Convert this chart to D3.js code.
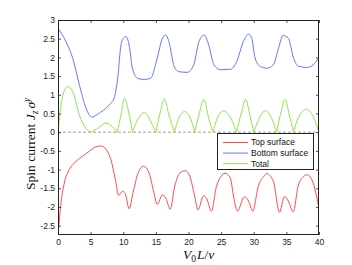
<!DOCTYPE html>
<html>
<head>
<meta charset="utf-8">
<script src="https://cdn.jsdelivr.net/npm/d3@7"></script>
<style>
  body { margin: 0; background: #fff; }
  .tick text { font-family: "Liberation Sans", Arial, sans-serif; font-size: 8.5px; fill: #222; }
  .tick line { stroke: #222; stroke-width: 0.8; }
  .lbl { font-family: "Liberation Serif", "Times New Roman", serif; font-size: 13.5px; fill: #111; }
  .leg text { font-family: "Liberation Sans", Arial, sans-serif; font-size: 8.5px; fill: #111; }
</style>
</head>
<body>
<div id="chart"></div>
<script>
// x = V0 L / v, y = spin current
const topSurface = [
  [0, -2.75], [0.25, -2.26], [0.46, -1.89], [0.97, -1.36], [1.74, -1.0], [2.76, -0.78],
  [3.78, -0.64], [4.8, -0.51], [5.8, -0.39], [6.6, -0.37], [7.36, -0.46], [8.1, -0.73],
  [8.8, -1.27], [9.3, -1.69], [9.9, -1.58], [10.3, -1.64], [10.9, -2.05], [11.5, -1.62],
  [12.2, -1.13], [13.1, -0.91], [13.95, -1.09], [14.7, -1.62], [15.2, -1.93], [16.0, -1.68],
  [16.5, -1.76], [17.2, -2.06], [17.9, -1.44], [18.7, -1.09], [19.5, -1.03], [20.2, -1.18],
  [20.95, -1.71], [21.45, -2.08], [22.3, -1.70], [22.8, -1.78], [23.5, -2.11], [24.3, -1.44],
  [25.0, -1.18], [25.6, -1.10], [26.4, -1.22], [26.9, -1.71], [27.5, -2.11], [28.55, -1.73],
  [29.2, -1.84], [29.85, -2.11], [30.7, -1.44], [31.5, -1.19], [32.0, -1.11], [33.0, -1.31],
  [33.95, -2.14], [34.7, -1.72], [35.3, -1.84], [36.05, -2.13], [36.8, -1.44], [37.6, -1.19],
  [38.2, -1.14], [39.1, -1.36], [40, -2.05]
];

const bottomSurface = [
  [0, 2.78], [0.6, 2.62], [1.23, 2.42], [2.25, 1.98], [3.27, 1.27], [4.3, 0.64], [5.2, 0.40],
  [5.8, 0.45], [6.5, 0.53], [7.35, 0.64], [8.0, 0.76], [8.6, 0.91], [9.15, 1.44], [9.65, 2.33],
  [10.05, 2.52], [10.4, 2.56], [10.9, 2.33], [11.4, 1.71], [12.2, 1.44], [13.2, 1.41],
  [14.2, 1.44], [15.2, 1.98], [16.0, 2.51], [16.5, 2.60], [17.0, 2.42], [17.8, 1.76],
  [18.5, 1.62], [19.8, 1.60], [20.8, 1.80], [21.6, 2.42], [22.4, 2.60], [23.1, 2.33],
  [23.9, 1.80], [24.9, 1.67], [26.4, 1.68], [27.4, 1.89], [28.4, 2.42], [29.2, 2.62],
  [29.7, 2.51], [30.2, 1.98], [31.0, 1.76], [32.0, 1.71], [33.0, 1.80], [33.8, 2.25],
  [34.5, 2.59], [35.3, 2.51], [36.1, 1.98], [36.8, 1.77], [38.1, 1.73], [39.1, 1.80], [40, 2.0]
];

const total = [
  [0, 0], [0.46, 0.73], [0.9, 1.08], [1.48, 1.22], [2.25, 1.09], [3.27, 0.46], [4.3, 0.1],
  [5.06, 0], [6.08, 0.1], [7.36, 0.24], [8.1, 0.18], [9.05, 0], [9.66, 0.46], [10.2, 0.91],
  [10.7, 0.64], [11.4, 0], [12.5, 0.42], [13.3, 0.52], [14.2, 0.29], [15.0, 0], [15.7, 0.55],
  [16.3, 0.89], [17.0, 0.46], [17.85, 0], [18.5, 0.37], [19.4, 0.55], [20.3, 0.37], [20.95, 0],
  [21.6, 0.46], [22.35, 0.88], [23.1, 0.37], [23.75, 0], [24.4, 0.37], [25.4, 0.57],
  [26.4, 0.40], [27.35, 0], [28.1, 0.51], [28.75, 0.88], [29.4, 0.46], [30.0, 0], [31.0, 0.42],
  [31.8, 0.58], [32.75, 0.37], [33.5, 0], [34.2, 0.55], [34.8, 0.88], [35.45, 0.46], [36.1, 0],
  [36.8, 0.37], [38.1, 0.61], [39.1, 0.42], [40, 0]
];

const xTicks = [0, 5, 10, 15, 20, 25, 30, 35, 40];
const yTicks = [-2.5, -2, -1.5, -1, -0.5, 0, 0.5, 1, 1.5, 2, 2.5, 3];
const legendNames = ['Top surface', 'Bottom surface', 'Total'];
const colors = ['#ff4a4a', '#6478ff', '#8ee84a'];

class SpinChart {
  constructor(aims) {
    this.container = d3.select(aims);
    this.width = 352;
    this.height = 265;
    this.left = 58;
    this.right = 319;
    this.top = 20;
    this.bottom = 235;
  }

  render() {
    this.createSvg();
    this.initScales();
    this.drawZero();
    this.drawLines();
    this.drawAxes();
    this.drawLabels();
    this.drawLegend();
  }

  createSvg() {
    this.chart = this.container.append('svg')
      .attr('width', this.width)
      .attr('height', this.height);
    this.chart.append('clipPath').attr('id', 'clip')
      .append('rect')
      .attr('x', this.left).attr('y', this.top)
      .attr('width', this.right - this.left).attr('height', this.bottom - this.top);
  }

  initScales() {
    this.x = d3.scaleLinear().domain([0, 40]).range([this.left, this.right]);
    this.y = d3.scaleLinear().domain([-2.75, 3]).range([this.bottom, this.top]);
  }

  drawZero() {
    this.chart.append('line')
      .attr('x1', this.x(0)).attr('x2', this.x(40))
      .attr('y1', this.y(0)).attr('y2', this.y(0))
      .attr('stroke', '#888')
      .attr('stroke-width', 0.8)
      .attr('stroke-dasharray', '3,2');
  }

  drawLines() {
    let line = d3.line()
      .x(d => this.x(d[0]))
      .y(d => this.y(d[1]))
      .curve(d3.curveMonotoneX);

    let g = this.chart.append('g').attr('clip-path', 'url(#clip)')
      .attr('fill', 'none').attr('stroke-width', 1);

    g.append('path').attr('d', line(bottomSurface)).attr('stroke', colors[1]);

    // total has cusps where it touches zero, so draw it arch by arch
    let arches = [];
    let cur = [];
    total.forEach(p => {
      cur.push(p);
      if (p[1] === 0 && cur.length > 1) {
        arches.push(cur);
        cur = [p];
      }
    });
    if (cur.length > 1) arches.push(cur);
    g.append('path').attr('d', arches.map(a => line(a)).join('')).attr('stroke', colors[2]);

    g.append('path').attr('d', line(topSurface)).attr('stroke', colors[0]);
  }

  drawAxes() {
    this.chart.append('g')
      .attr('transform', 'translate(0,' + this.bottom + ')')
      .call(d3.axisBottom(this.x).tickValues(xTicks).tickSizeInner(-3).tickSizeOuter(0).tickPadding(4).tickFormat(d => String(d)))
      .call(g => g.select('.domain').remove());
    this.chart.append('g')
      .attr('transform', 'translate(0,' + this.top + ')')
      .call(d3.axisTop(this.x).tickValues(xTicks).tickSizeInner(-3).tickSizeOuter(0).tickFormat(''))
      .call(g => g.select('.domain').remove());
    this.chart.append('g')
      .attr('transform', 'translate(' + this.left + ',0)')
      .call(d3.axisLeft(this.y).tickValues(yTicks).tickSizeInner(-3).tickSizeOuter(0).tickPadding(3).tickFormat(d => String(d)))
      .call(g => g.select('.domain').remove());
    this.chart.append('g')
      .attr('transform', 'translate(' + this.right + ',0)')
      .call(d3.axisRight(this.y).tickValues(yTicks).tickSizeInner(-3).tickSizeOuter(0).tickFormat(''))
      .call(g => g.select('.domain').remove());

    this.chart.append('rect')
      .attr('x', this.left + 0.5).attr('y', this.top + 0.5)
      .attr('width', this.right - this.left - 1).attr('height', this.bottom - this.top - 1)
      .attr('fill', 'none').attr('stroke', '#222').attr('stroke-width', 1);
  }

  drawLabels() {
    let yl = this.chart.append('text')
      .attr('class', 'lbl')
      .attr('transform', 'translate(34.5,190) rotate(-90)');
    yl.append('tspan').text('Spin current ');
    yl.append('tspan').attr('font-style', 'italic').text('J');
    yl.append('tspan').attr('font-style', 'italic').attr('font-size', '9.5px').attr('dy', 3).text('z');
    yl.append('tspan').attr('font-style', 'italic').attr('dx', 2).attr('dy', -3).text('σ');
    yl.append('tspan').attr('font-style', 'italic').attr('font-size', '9.5px').attr('dy', -5).text('y');

    let xl = this.chart.append('text')
      .attr('class', 'lbl')
      .attr('x', 183).attr('y', 258.5);
    xl.append('tspan').attr('font-style', 'italic').text('V');
    xl.append('tspan').attr('font-size', '9.5px').attr('dy', 3).text('0');
    xl.append('tspan').attr('font-style', 'italic').attr('dx', 1).attr('dy', -3).text('L');
    xl.append('tspan').text('/');
    xl.append('tspan').attr('font-style', 'italic').text('v');
  }

  drawLegend() {
    let g = this.chart.append('g').attr('class', 'leg');
    g.append('rect')
      .attr('x', 217.5).attr('y', 133.5).attr('width', 96).attr('height', 36)
      .attr('fill', '#fff').attr('stroke', '#222').attr('stroke-width', 1);
    let rows = g.selectAll('.row').data(legendNames).enter().append('g')
      .attr('transform', (d, i) => 'translate(0,' + (142.5 + i * 10.6) + ')');
    rows.append('line')
      .attr('x1', 223).attr('x2', 248)
      .attr('stroke', (d, i) => colors[i]).attr('stroke-width', 1);
    rows.append('text')
      .attr('x', 251).attr('dy', '0.35em')
      .text(d => d);
  }
}

new SpinChart('#chart').render();
</script>
</body>
</html>
